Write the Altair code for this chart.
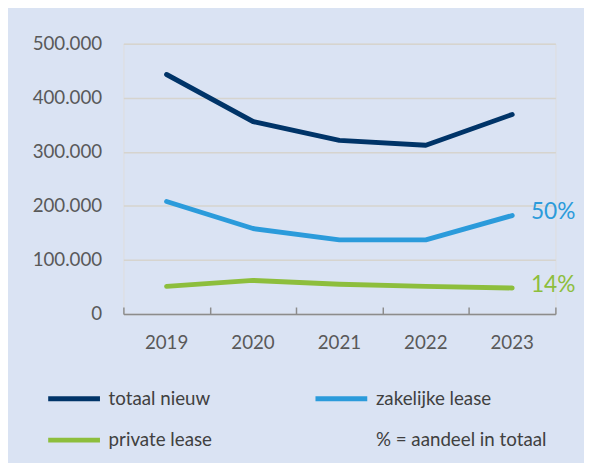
import altair as alt
import pandas as pd

years = ["2019", "2020", "2021", "2022", "2023"]
totaal_nieuw = [443000, 356000, 321000, 312000, 369000]
zakelijke_lease = [208000, 158000, 137000, 137000, 182000]
private_lease = [51000, 62000, 55000, 51000, 48000]

series_names = ["totaal nieuw", "zakelijke lease", "private lease", "% = aandeel in totaal"]
series_colors = ["#003468", "#2B9BDB", "#8DBE3C", "transparent"]

pct_series = ["zakelijke lease", "private lease"]
pct_labels = ["50%", "14%"]
pct_values = [zakelijke_lease[-1], private_lease[-1]]

rows = []
for name, vals in zip(series_names[:3], [totaal_nieuw, zakelijke_lease, private_lease]):
    for y, v in zip(years, vals):
        rows.append({"year": y, "series": name, "value": v})
df = pd.DataFrame(rows)

pct_df = pd.DataFrame({"year": [years[-1]] * 2, "series": pct_series,
                       "value": pct_values, "label": pct_labels})

W, H = 438, 274
FONT = "Lato"

xscale = alt.Scale(type="band", domain=years, paddingInner=0, paddingOuter=0)
yscale = alt.Scale(domain=[0, 500000])
cscale = alt.Scale(domain=series_names, range=series_colors)

yaxis = alt.Axis(values=[0, 100000, 200000, 300000, 400000, 500000], grid=True,
                 gridColor="#D6D4CE", gridWidth=1.5, domain=False, ticks=False,
                 labelPadding=22, labelFontSize=19, labelColor="#595959", title=None,
                 labelExpr="replace(format(datum.value, ','), ',', '.')")

lines = alt.Chart(df).mark_line(strokeWidth=5, strokeCap="round", strokeJoin="round").encode(
    x=alt.X("year:O", scale=xscale, bandPosition=0.5, sort=years,
            axis=alt.Axis(orient="bottom", domain=False, ticks=False, labelPadding=20,
                          labelFontSize=19, labelColor="#595959", labelAngle=0, title=None)),
    y=alt.Y("value:Q", scale=yscale, axis=yaxis),
    color=alt.Color("series:N", scale=cscale, sort=series_names,
                    legend=alt.Legend(orient="none", legendX=-63, legendY=347, columns=2,
                                      direction="horizontal", values=series_names,
                                      columnPadding=94, rowPadding=19, title=None,
                                      labelFontSize=19, labelColor="#404040", labelFont=FONT,
                                      labelLimit=300,
                                      symbolType="M-2.5,0H2.5", symbolStrokeWidth=5,
                                      symbolSize=441, labelOffset=22)),
    detail="series:N",
)

texts = alt.Chart(pct_df).mark_text(align="left", baseline="middle", dx=19, dy=-3,
                                    fontSize=23, font=FONT).encode(
    x=alt.X("year:O", scale=xscale, bandPosition=0.5, sort=years,
            axis=alt.Axis(orient="top", offset=-H, labels=False, ticks=True, tickBand="extent",
                          tickSize=7, tickWidth=1.5, tickColor="#8C8C8C", domain=True,
                          domainColor="#8C8C8C", domainWidth=1.5, title=None)),
    y=alt.Y("value:Q", scale=yscale, axis=yaxis),
    color=alt.Color("series:N", scale=cscale, sort=series_names),
    text="label:N",
)

chart = alt.layer(lines, texts).resolve_axis(x="independent").properties(
    width=W, height=H, background="#DAE3F3",
    autosize=alt.AutoSizeParams(type="none"),
    padding={"left": 117, "top": 33, "right": 29, "bottom": 148},
).configure_view(stroke=None).configure(font=FONT)

chart.save("out.html", embed_options={"renderer": "svg", "actions": False})
